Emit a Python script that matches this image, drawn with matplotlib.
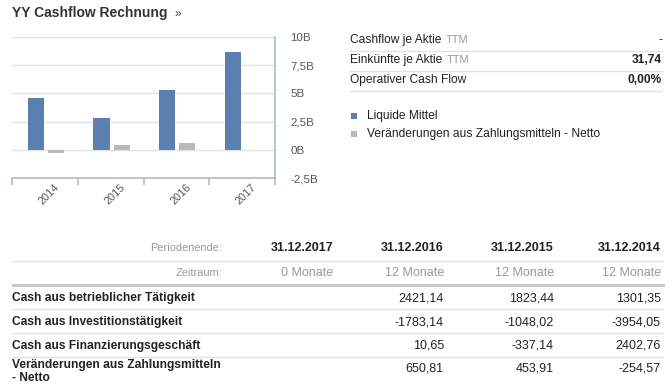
import matplotlib
matplotlib.use("Agg")
import matplotlib.pyplot as plt
from matplotlib.lines import Line2D
from matplotlib.patches import Rectangle
from matplotlib.ticker import FuncFormatter
from matplotlib.transforms import ScaledTranslation
import numpy as np

# ---------------- data ----------------
years = ["2014", "2015", "2016", "2017"]
liquide_mittel = [4.62, 2.79, 5.27, 8.68]          # in B
netto_change = [-0.25457, 0.45391, 0.65081, 0.0]     # in B
y_ticks = [-2.5, 0, 2.5, 5, 7.5, 10]

kpi_labels = ["Cashflow je Aktie", "Einkünfte je Aktie", "Operativer Cash Flow"]
kpi_suffix = ["TTM", "TTM", ""]
kpi_values = ["-", "31,74", "0,00%"]

legend_labels = ["Liquide Mittel", "Veränderungen aus Zahlungsmitteln - Netto"]

period_ends = ["31.12.2017", "31.12.2016", "31.12.2015", "31.12.2014"]
period_months = ["0 Monate", "12 Monate", "12 Monate", "12 Monate"]
row_labels = ["Cash aus betrieblicher Tätigkeit",
              "Cash aus Investitionstätigkeit",
              "Cash aus Finanzierungsgeschäft",
              "Veränderungen aus Zahlungsmitteln\n- Netto"]
row_2017 = [None, None, None, None]
row_2016 = [2421.14, -1783.14, 10.65, 650.81]
row_2015 = [1823.44, -1048.02, -337.14, 453.91]
row_2014 = [1301.35, -3954.05, 2402.76, -254.57]

BLUE = "#5b80b0"
GRAY = "#b9b9b9"
DARK = "#222222"
MID = "#555555"
LIGHT = "#999999"
LINE = "#e3e3e3"

W, H = 672, 385
fig = plt.figure(figsize=(W / 100, H / 100), dpi=100)

def fx(x):
    return x / W

def fy(y):
    return 1 - y / H

FONT = ["Liberation Sans", "DejaVu Sans"]

def pt(px):
    return px * 0.72

# ---------------- title ----------------
fig.text(fx(12.5), fy(13), "YY Cashflow Rechnung", family=FONT, weight="bold",
         fontsize=pt(13.9), color="#333333", va="center", ha="left")
fig.text(fx(174), fy(13.5), "»", family=FONT, fontsize=pt(12), color="#444444",
         va="center", ha="left")

# ---------------- chart ----------------
left, right, top, bottom = 12, 275.3, 36.7, 178.3
ax = fig.add_axes([fx(left), fy(bottom), fx(right - left), (bottom - top) / H])
x = np.arange(len(years))
bw = 0.245
ax.bar(x - 0.14, liquide_mittel, width=bw, color=BLUE, zorder=3)
ax.bar(x + 0.165, netto_change, width=bw, color=GRAY, zorder=3)
ax.set_xlim(-0.5, len(years) - 0.5)
ax.set_ylim(-2.5, 10)
ax.set_yticks(y_ticks)
ax.yaxis.tick_right()
ax.yaxis.set_major_formatter(FuncFormatter(
    lambda v, p: (f"{v:g}".replace(".", ",")) + "B"))
ax.tick_params(axis="y", length=0, pad=11, labelsize=pt(11.5), labelcolor=MID)
for lbl in ax.get_yticklabels():
    lbl.set_family(FONT)
ax.grid(axis="y", color="#dde2e8", linewidth=1, zorder=0)
ax.set_xticks(x)
ax.set_xticklabels(years, rotation=45, ha="center", fontsize=pt(11),
                   color=MID, family=FONT)
ax.tick_params(axis="x", length=0, pad=3)
shift = ScaledTranslation(4 / 100, 0, fig.dpi_scale_trans)
for lbl in ax.get_xticklabels():
    lbl.set_transform(lbl.get_transform() + shift)
ax.set_xticks(np.arange(-0.5, len(years)), minor=True)
ax.tick_params(axis="x", which="minor", length=5, width=1.2, color="#a9bccf",
               direction="out")
for s in ["top", "left"]:
    ax.spines[s].set_visible(False)
for s in ["right", "bottom"]:
    ax.spines[s].set_color("#a9bccf")
    ax.spines[s].set_linewidth(1.2)
ax.set_facecolor("none")

# ---------------- KPI panel ----------------
kx0, kx1 = 350, 662
ky = [40, 60, 80]
for i, (lab, suf, val) in enumerate(zip(kpi_labels, kpi_suffix, kpi_values)):
    tt = fig.text(fx(kx0), fy(ky[i]), lab, family=FONT, fontsize=pt(12),
                  color=DARK, va="center", ha="left")
    if suf:
        fig.canvas.draw()
        bb = tt.get_window_extent()
        fig.text(bb.x1 / W + fx(4), fy(ky[i]), suf, family=FONT,
                 fontsize=pt(11), color=LIGHT, va="center", ha="left")
    fig.text(fx(kx1), fy(ky[i]), val, family=FONT, fontsize=pt(12),
             color=DARK, va="center", ha="right",
             weight="normal" if val == "-" else "bold")
    fig.add_artist(Line2D([fx(kx0), fx(kx1)], [fy(ky[i] + 10.5)] * 2,
                          color=LINE, linewidth=1))

# legend
leg_y = [115.5, 134]
leg_col = [BLUE, GRAY]
for i, lab in enumerate(legend_labels):
    fig.add_artist(Rectangle((fx(351), fy(leg_y[i] + 3)), fx(6), 6 / H,
                             facecolor=leg_col[i], edgecolor="none"))
    fig.text(fx(367), fy(leg_y[i]), lab, family=FONT, fontsize=pt(12),
             color=DARK, va="center", ha="left")

# ---------------- table ----------------
tx0, tx1 = 12.5, 662.5
col_right = [333, 444, 554, 661]
hdr_y, per_y = 248, 272.5
fig.text(fx(222), fy(hdr_y), "Periodenende:", family=FONT, fontsize=pt(11),
         color=LIGHT, ha="right", va="center")
fig.text(fx(222), fy(per_y), "Zeitraum:", family=FONT, fontsize=pt(11),
         color=LIGHT, ha="right", va="center")
for c, (pe, pm) in enumerate(zip(period_ends, period_months)):
    fig.text(fx(col_right[c]), fy(hdr_y), pe, family=FONT, fontsize=pt(12.5),
             color=DARK, weight="bold", ha="right", va="center")
    fig.text(fx(col_right[c]), fy(per_y), pm, family=FONT, fontsize=pt(12.5),
             color=LIGHT, ha="right", va="center")
fig.add_artist(Line2D([fx(tx0), fx(tx1)], [fy(260.5)] * 2, color=LINE, lw=1))
fig.add_artist(Line2D([fx(tx0), fx(tx1)], [fy(285)] * 2, color="#c8c8c8", lw=2.2))

row_y = [298.3, 322.3, 345.5, 371.5]
num_y = [298.3, 322.3, 345.5, 368.3]
sep_y = [309, 333.3, 357.3]
cols = [row_2017, row_2016, row_2015, row_2014]
for r, lab in enumerate(row_labels):
    fig.text(fx(tx0), fy(row_y[r]), lab, family=FONT, fontsize=pt(12),
             color=DARK, weight="bold", ha="left", va="center",
             linespacing=1.05)
    for c, col in enumerate(cols):
        v = col[r]
        if v is None:
            continue
        fig.text(fx(col_right[c]), fy(num_y[r]), f"{v:.2f}".replace(".", ","),
                 family=FONT, fontsize=pt(12.5), color=DARK, ha="right",
                 va="center")
for ly in sep_y:
    fig.add_artist(Line2D([fx(tx0), fx(tx1)], [fy(ly)] * 2, color=LINE, lw=1))

fig.savefig("out.png", dpi=100)
